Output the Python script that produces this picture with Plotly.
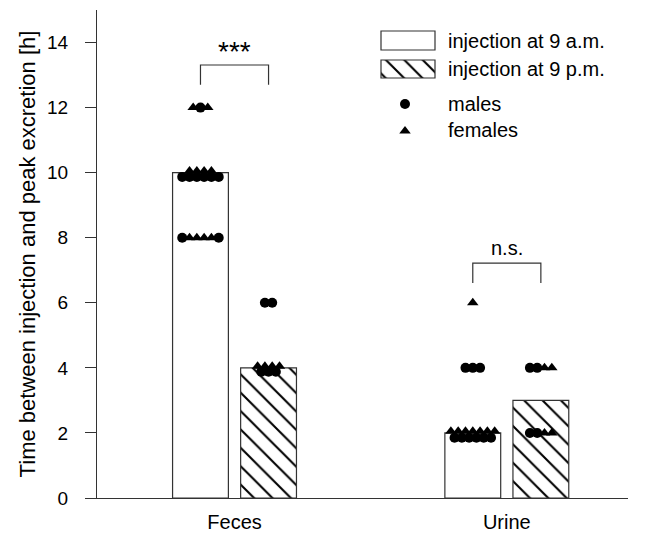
import plotly.graph_objects as go

# ---- data -------------------------------------------------------------
groups = ["Feces", "Urine"]
series_names = ["injection at 9 a.m.", "injection at 9 p.m."]
am_hours = [10, 2]          # bar heights, injection at 9 a.m.
pm_hours = [4, 3]           # bar heights, injection at 9 p.m.

# individual animals (M = male, F = female), listed left to right per row
feces_am_sex = list("FMF" + "MMMMMM" + "FFFF" + "MFFFFM")
feces_am_h = [12, 12, 12,
              9.87, 9.87, 9.87, 9.87, 9.87, 9.87,
              10.05, 10.05, 10.05, 10.05,
              8, 8, 8, 8, 8, 8]
feces_pm_sex = list("MM" + "FFFF" + "MMM")
feces_pm_h = [6, 6, 4.05, 4.05, 4.05, 4.05, 3.88, 3.88, 3.88]
urine_am_sex = list("F" + "MMM" + "FFFFFFF" + "MMMMMM")
urine_am_h = [6, 4, 4, 4,
              2.05, 2.05, 2.05, 2.05, 2.05, 2.05, 2.05,
              1.85, 1.85, 1.85, 1.85, 1.85, 1.85]
urine_pm_sex = list("MMFF" + "MMFF")
urine_pm_h = [4, 4, 4, 4, 2, 2, 2, 2]

sig_labels = ["***", "n.s."]

# ---- layout constants -------------------------------------------------
FONT = "Liberation Sans, Arial, sans-serif"
group_x = [1, 3]
bar_off = 0.25
bar_w = 0.41
dot_step = 0.0536
LINE = "#333333"
HATCH = dict(shape="\\", size=13, solidity=0.16, fgcolor="#000000",
             fgopacity=1, bgcolor="white")

def swarm(values, center, step):
    """Spread animals sharing the same row side by side around the bar centre."""
    rows = {}
    for i, v in enumerate(values):
        rows.setdefault(v, []).append(i)
    xs = [0.0] * len(values)
    for v, idx in rows.items():
        n = len(idx)
        for k, i in enumerate(idx):
            xs[i] = center + (k - (n - 1) / 2) * step
    return xs

fig = go.Figure()

am_x = [g - bar_off for g in group_x]
pm_x = [g + bar_off for g in group_x]

fig.add_bar(x=am_x, y=am_hours, width=bar_w, name=series_names[0],
            marker=dict(color="white", line=dict(color=LINE, width=1.2)),
            showlegend=False, hoverinfo="skip")
fig.add_bar(x=pm_x, y=pm_hours, width=bar_w, name=series_names[1],
            marker=dict(color="white", line=dict(color=LINE, width=1.2), pattern=HATCH),
            showlegend=False, hoverinfo="skip")

sets = [(feces_am_sex, feces_am_h, am_x[0]), (feces_pm_sex, feces_pm_h, pm_x[0]),
        (urine_am_sex, urine_am_h, am_x[1]), (urine_pm_sex, urine_pm_h, pm_x[1])]
for sexes, hours, cx in sets:
    xs = swarm(hours, cx, dot_step)
    for sex, sym, size in (("M", "circle", 10), ("F", "triangle-up", 10)):
        px = [x for x, s in zip(xs, sexes) if s == sex]
        py = [h for h, s in zip(hours, sexes) if s == sex]
        fig.add_scatter(x=px, y=py, mode="markers", showlegend=False,
                        marker=dict(symbol=sym, size=size, color="black",
                                    line=dict(width=0)), hoverinfo="skip")

# significance brackets
brackets = [(0, 13.31, 12.70, 28, -4), (1, 7.22, 6.61, 20, 2)]
for gi, top, leg, fsize, shift in brackets:
    x0, x1 = am_x[gi], pm_x[gi]
    fig.add_shape(type="path", xref="x", yref="y",
                  path=f"M {x0},{leg} L {x0},{top} L {x1},{top} L {x1},{leg}",
                  line=dict(color=LINE, width=1.2))
    fig.add_annotation(x=group_x[gi], y=top, xref="x", yref="y", text=sig_labels[gi],
                       showarrow=False, yanchor="bottom", yshift=shift,
                       font=dict(family=FONT, size=fsize, color="black"))

# ---- legend drawn on an overlay axis measured in pixels --------------
fig.add_bar(x=[408], y=[19], base=[485], width=[54], xaxis="x2", yaxis="y2",
            marker=dict(color="white", line=dict(color=LINE, width=1.2)),
            showlegend=False, hoverinfo="skip")
fig.add_bar(x=[408], y=[18], base=[457], width=[54], xaxis="x2", yaxis="y2",
            marker=dict(color="white", line=dict(color=LINE, width=1.2), pattern=HATCH),
            showlegend=False, hoverinfo="skip")
fig.add_scatter(x=[405], y=[431], xaxis="x2", yaxis="y2", mode="markers",
                marker=dict(symbol="circle", size=10, color="black"),
                showlegend=False, hoverinfo="skip")
fig.add_scatter(x=[405], y=[404], xaxis="x2", yaxis="y2", mode="markers",
                marker=dict(symbol="triangle-up", size=10, color="black"),
                showlegend=False, hoverinfo="skip")
for txt, yy in ((series_names[0], 494), (series_names[1], 466),
                ("males", 431), ("females", 405)):
    fig.add_annotation(x=446, y=yy, xref="x2", yref="y2", text=txt,
                       showarrow=False, xanchor="left", yanchor="middle",
                       font=dict(family=FONT, size=20, color="black"))

fig.update_layout(
    width=645, height=535,
    margin=dict(l=97, r=17, t=10, b=37),
    paper_bgcolor="white", plot_bgcolor="white",
    barmode="overlay",
    font=dict(family=FONT, size=18, color="black"),
    xaxis=dict(range=[-0.01, 3.89], tickvals=group_x, ticktext=groups,
               showline=True, linecolor=LINE, linewidth=1.3, ticks="",
               ticklabelstandoff=6, automargin=False,
               showgrid=False, zeroline=False,
               tickfont=dict(family=FONT, size=20, color="black")),
    yaxis=dict(range=[0, 15], tickvals=list(range(0, 15, 2)),
               showline=True, linecolor=LINE, linewidth=1.3,
               ticks="outside", ticklen=11, tickcolor=LINE, tickwidth=1.2,
               ticklabelstandoff=13, automargin=False,
               showgrid=False, zeroline=False,
               tickfont=dict(family=FONT, size=19, color="black"),
               title=dict(text="Time between injection and peak excretion [h]",
                          font=dict(family=FONT, size=22, color="black"),
                          standoff=5)),
    xaxis2=dict(overlaying="x", range=[97, 628], visible=False),
    yaxis2=dict(overlaying="y", range=[37, 525], visible=False),
)

fig.write_html("out.html")
